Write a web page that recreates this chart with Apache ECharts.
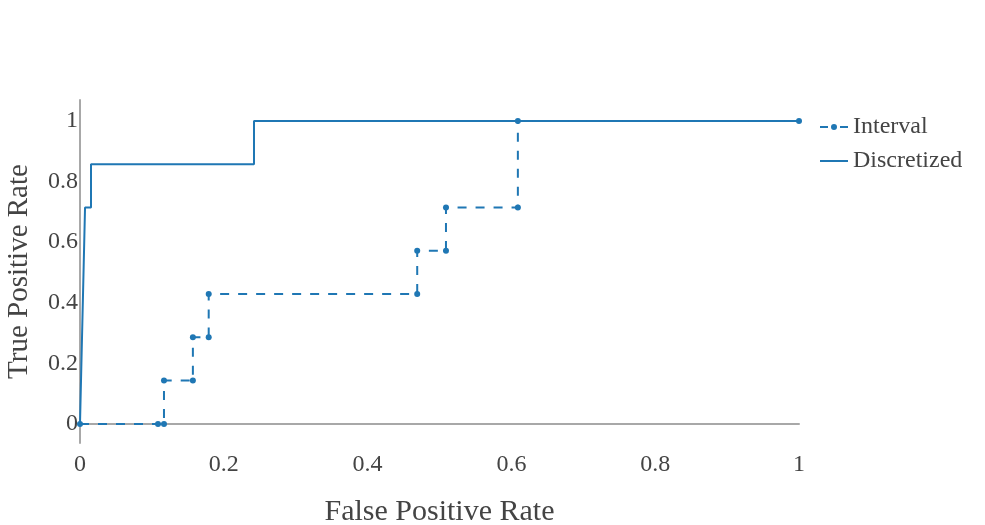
<!DOCTYPE html>
<html>
<head>
<meta charset="utf-8">
<script src="https://cdn.jsdelivr.net/npm/echarts@6/dist/echarts.min.js"></script>
<style>
  html, body { margin: 0; padding: 0; background: #fff; }
  #chart { width: 985px; height: 525px; }
</style>
</head>
<body>
<div id="chart"></div>
<script>
// ROC curve points (FPR, TPR)
const intervalFpr = [0, 0.1085, 0.1168, 0.1168, 0.157, 0.157, 0.179, 0.179, 0.469, 0.469, 0.509, 0.509, 0.609, 0.609, 1];
const intervalTpr = [0, 0, 0, 0.1429, 0.1429, 0.2857, 0.2857, 0.4286, 0.4286, 0.5714, 0.5714, 0.7143, 0.7143, 1, 1];
const discretizedFpr = [0, 0.007, 0.0153, 0.0153, 0.242, 0.242, 1];
const discretizedTpr = [0, 0.7143, 0.7143, 0.8571, 0.8571, 1, 1];
const xTicks = [0, 0.2, 0.4, 0.6, 0.8, 1];
const yTicks = [0, 0.2, 0.4, 0.6, 0.8, 1];

const serif = '"Liberation Serif", "DejaVu Serif", serif';
const textColor = '#444';
const axisColor = '#a8a8a8';
const blue = '#1f77b4';

// legend glyphs: dashed line with a dot, and a plain line
const dashDotIcon = 'path://M0,5h8v2h-8z M11,6a3,3 0 1,0 6,0a3,3 0 1,0 -6,0z M20,5h8v2h-8z';
const lineIcon = 'path://M0,5h28v2h-28z';

function pairs(xs, ys) {
    return xs.map(function (x, i) { return [x, ys[i]]; });
}

const chart = echarts.init(document.getElementById('chart'));

const options = {
    animation: false,
    textStyle: { fontFamily: serif },
    grid: {
        left: 80,
        right: 186,
        top: 100,
        bottom: 82,
        containLabel: false,
        outerBoundsMode: 'none'
    },
    legend: {
        orient: 'vertical',
        left: 815,
        top: 110,
        itemWidth: 28,
        itemHeight: 12,
        itemGap: 10,
        textStyle: { fontFamily: serif, fontSize: 24, color: textColor },
        data: [
            { name: 'Interval', icon: dashDotIcon },
            { name: 'Discretized', icon: lineIcon }
        ]
    },
    xAxis: {
        type: 'value',
        min: 0,
        max: 1,
        name: 'False Positive Rate',
        nameLocation: 'middle',
        nameGap: 54,
        nameTextStyle: { fontFamily: serif, fontSize: 30, color: textColor },
        axisLine: { show: true, onZero: true, lineStyle: { color: axisColor, width: 2 } },
        axisTick: { show: false },
        splitLine: { show: false },
        axisLabel: {
            customValues: xTicks,
            showMinLabel: true,
            showMaxLabel: true,
            margin: 10,
            fontFamily: serif,
            fontSize: 24,
            color: textColor
        }
    },
    yAxis: {
        type: 'value',
        min: -0.063,
        max: 1.069,
        name: 'True Positive Rate',
        nameLocation: 'middle',
        nameGap: 46,
        nameTextStyle: { fontFamily: serif, fontSize: 29, color: textColor },
        axisLine: { show: true, onZero: true, lineStyle: { color: axisColor, width: 2 } },
        axisTick: { show: false },
        splitLine: { show: false },
        axisLabel: {
            customValues: yTicks,
            margin: 2,
            fontFamily: serif,
            fontSize: 24,
            color: textColor
        }
    },
    series: [
        {
            name: 'Interval',
            type: 'line',
            data: pairs(intervalFpr, intervalTpr),
            symbol: 'circle',
            symbolSize: 6,
            showAllSymbol: true,
            color: blue,
            lineStyle: { color: blue, width: 2, type: [9, 9] },
            itemStyle: { color: blue },
            z: 3
        },
        {
            name: 'Discretized',
            type: 'line',
            data: pairs(discretizedFpr, discretizedTpr),
            symbol: 'none',
            color: blue,
            lineStyle: { color: blue, width: 2 },
            z: 2
        }
    ]
};

chart.setOption(options);
window.onresize = function () {
    chart.resize();
};
</script>
</body>
</html>
